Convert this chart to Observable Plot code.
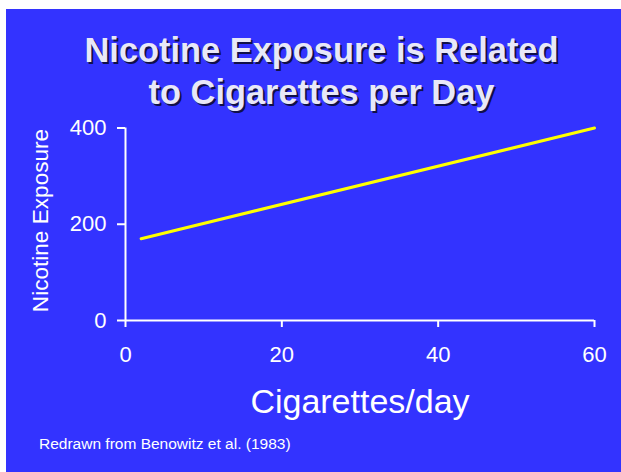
<!DOCTYPE html>
<html>
<head>
<meta charset="utf-8">
<script src="https://cdn.jsdelivr.net/npm/d3@7"></script>
<script src="https://cdn.jsdelivr.net/npm/@observablehq/plot@0.6"></script>
<style>
  html, body { margin: 0; padding: 0; background: #ffffff; }
  body { width: 621px; height: 472px; position: relative; overflow: hidden; font-family: "Liberation Sans", Arial, sans-serif; }
  #panel { position: absolute; left: 6px; top: 9px; width: 615px; height: 463px; background: #3333FF; }
  #title { position: absolute; left: 0; top: 20px; width: 631px; text-align: center; font-weight: bold; font-size: 34.4px; line-height: 42px; color: #E8E8F8; text-shadow: 2px 2px 0 rgba(10,10,40,0.85); }
  #ylabel { position: absolute; left: -116px; top: 200px; width: 300px; height: 23px; line-height: 23px; font-size: 22.6px; text-align: center; color: #ffffff; transform: rotate(-90deg); transform-origin: 150px 11.5px; }
  #xlabel { position: absolute; left: 204px; top: 374px; width: 300px; text-align: center; font-size: 34px; line-height: 36px; color: #ffffff; }
  #caption { position: absolute; left: 33px; top: 426px; font-size: 15.5px; line-height: 17px; color: #ffffff; white-space: nowrap; }
  #chart { position: absolute; left: 0; top: 0; }
</style>
</head>
<body>
<div id="panel">
  <div id="chart"></div>
  <div id="title">Nicotine Exposure is Related<br>to Cigarettes per Day</div>
  <div id="ylabel">Nicotine Exposure</div>
  <div id="xlabel">Cigarettes/day</div>
  <div id="caption">Redrawn from Benowitz et al. (1983)</div>
</div>
<script>
const cigarettesPerDay = [2, 60];
const nicotineExposure = [170, 400];
const xTicks = [0, 20, 40, 60];
const yTicks = [0, 200, 400];

const data = cigarettesPerDay.map((c, i) => ({cigs: c, nicotine: nicotineExposure[i]}));

const chart = Plot.plot({
  width: 615,
  height: 463,
  marginLeft: 119,
  marginRight: 27,
  marginTop: 118.5,
  marginBottom: 152,
  style: { background: "transparent", color: "#ffffff", fontFamily: "Liberation Sans, Arial, sans-serif", fontSize: "22px", overflow: "visible" },
  x: { domain: [0, 60] },
  y: { domain: [0, 400] },
  marks: [
    Plot.ruleY([0], { x1: 0, x2: 60, stroke: "#ffffff", strokeWidth: 2 }),
    Plot.ruleX([0], { y1: 0, y2: 400, stroke: "#ffffff", strokeWidth: 2 }),
    Plot.axisX({ ticks: xTicks, tickSize: 7, tickPadding: 19, label: null, stroke: "#ffffff", strokeWidth: 2, strokeOpacity: 1, fill: "#ffffff", fontSize: 22 }),
    Plot.axisY({ ticks: yTicks, tickSize: 8, tickPadding: 11, label: null, stroke: "#ffffff", strokeWidth: 2, strokeOpacity: 1, fill: "#ffffff", fontSize: 22 }),
    Plot.line(data, { x: "cigs", y: "nicotine", stroke: "#FFFF00", strokeWidth: 3 })
  ]
});
document.getElementById("chart").appendChild(chart);
</script>
</body>
</html>
